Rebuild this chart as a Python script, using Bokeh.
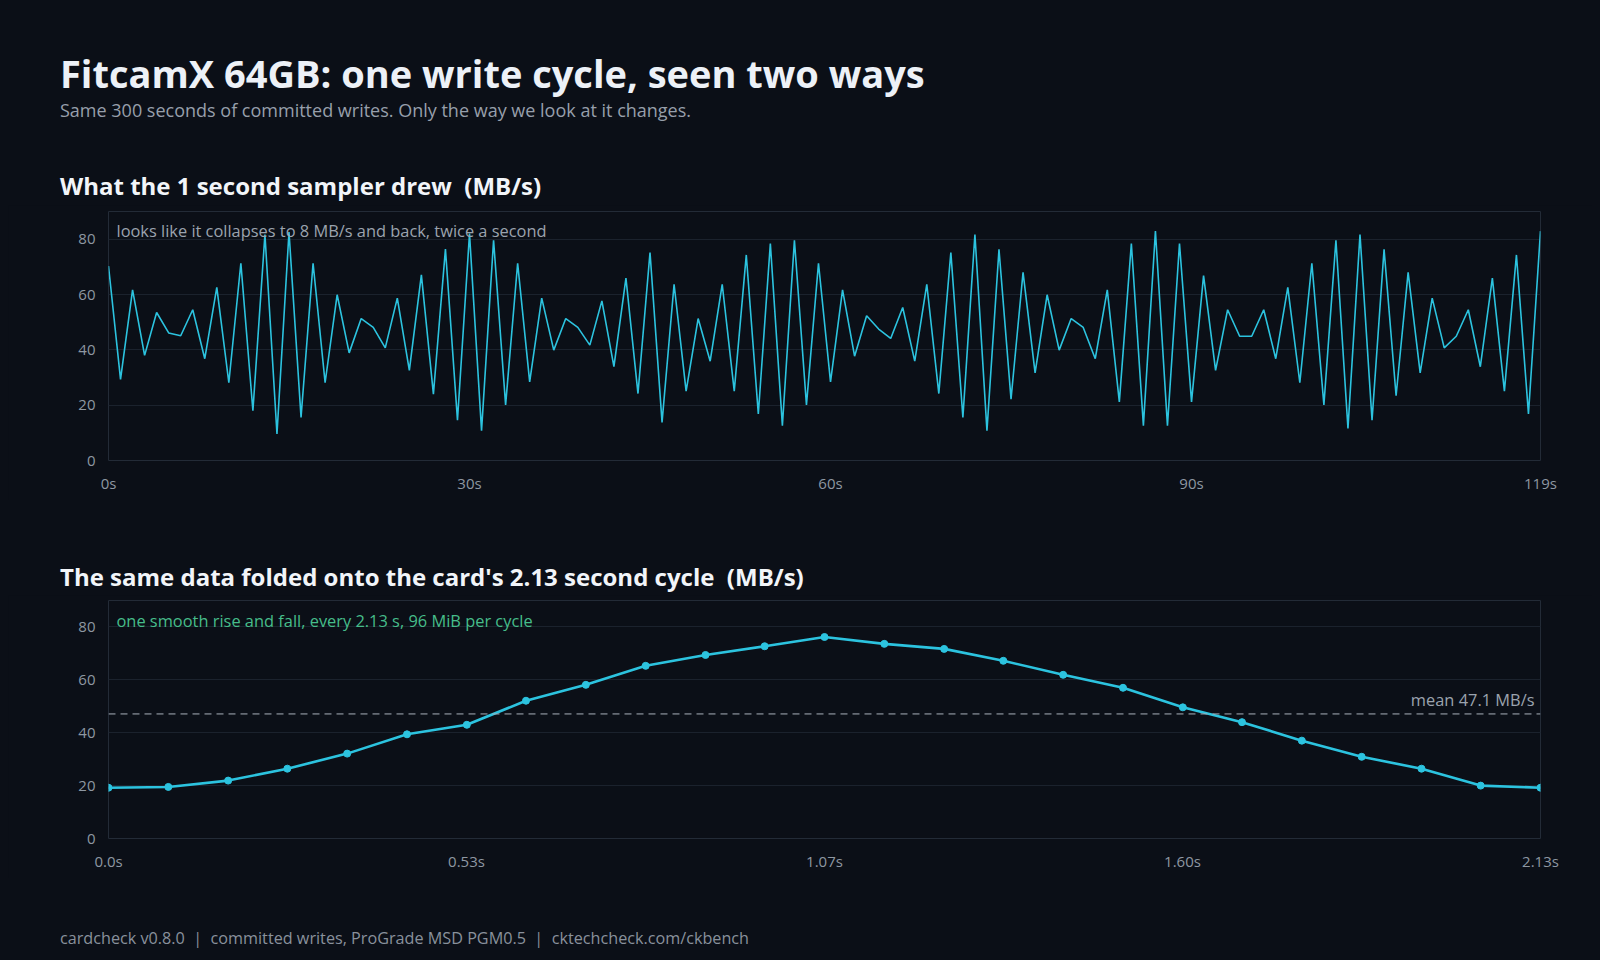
from bokeh.plotting import figure
from bokeh.layouts import column
from bokeh.models import Div, Label, Span, ColumnDataSource, FixedTicker
from bokeh.embed import file_html
from bokeh.resources import INLINE

# 1 second sampler readings, MB/s (0s .. 119s)
seconds = list(range(120))
sampled_mbps = [
    70.3, 29.3, 61.7, 38.0, 53.5, 46.1, 45.1, 54.5, 36.8, 62.6,
    28.1, 71.3, 18.0, 81.7, 9.6, 82.6, 15.6, 71.3, 28.1, 59.9,
    38.9, 51.3, 48.1, 40.7, 58.7, 32.6, 67.1, 24.0, 76.4, 14.6,
    82.0, 10.8, 79.6, 20.1, 71.3, 28.4, 58.7, 39.9, 51.3, 48.1,
    41.7, 57.7, 33.9, 65.9, 24.2, 75.2, 13.8, 63.7, 25.1, 51.3,
    35.9, 63.7, 25.1, 74.3, 16.8, 78.4, 12.6, 79.6, 20.1, 71.3,
    28.4, 61.7, 37.7, 52.3, 47.5, 44.1, 55.3, 35.9, 63.7, 24.2,
    75.2, 15.6, 81.7, 10.8, 76.3, 22.2, 68.0, 31.7, 59.9, 39.9,
    51.3, 48.1, 36.8, 61.7, 21.2, 78.4, 12.6, 82.9, 12.6, 78.4,
    21.2, 66.8, 32.6, 54.5, 44.9, 44.9, 54.5, 36.8, 62.6, 28.1,
    71.3, 20.1, 79.6, 11.6, 81.7, 14.6, 76.3, 23.4, 68.0, 31.7,
    58.7, 40.7, 44.9, 54.5, 33.9, 65.9, 25.1, 74.3, 16.8, 82.9,
]

# same data folded onto the 2.13 s cycle
phase_s = [0.000, 0.089, 0.178, 0.266, 0.355, 0.444, 0.533, 0.621, 0.710,
           0.799, 0.888, 0.976, 1.065, 1.154, 1.243, 1.331, 1.420, 1.509,
           1.598, 1.686, 1.775, 1.864, 1.953, 2.041, 2.130]
folded_mbps = [19.2, 19.5, 21.9, 26.4, 32.1, 39.4, 43.0, 52.1, 58.1,
               65.3, 69.4, 72.7, 76.2, 73.6, 71.7, 67.2, 61.9, 57.0,
               49.6, 44.0, 37.0, 30.9, 26.4, 20.0, 19.2]
mean_mbps = 47.1
cycle_s = 2.13

top_ticks = [0, 30, 60, 90, 119]
top_tick_labels = ["0s", "30s", "60s", "90s", "119s"]
bottom_ticks = [0.0, 0.5325, 1.065, 1.5975, 2.13]
bottom_tick_labels = ["0.0s", "0.53s", "1.07s", "1.60s", "2.13s"]
y_ticks = [0, 20, 40, 60, 80]

BG = "#0b0f17"
CYAN = "#2cc3df"
FONT = "Open Sans"
GRID = "#1b222d"
FRAME = "#232b37"
TICK_TXT = "#8e97a2"
W = 1584


def text_block(items, height):
    # items: (left, baseline, size, weight, color, text)
    parts = []
    for left, base, size, weight, color, txt in items:
        top = base - 0.888 * size
        parts.append(
            f'<div style="position:absolute;left:{left}px;top:{top:.1f}px;'
            f'font-size:{size}px;line-height:1;font-weight:{weight};color:{color};'
            f"white-space:nowrap;font-family:'{FONT}'\">{txt}</div>")
    html = (f'<div style="position:relative;width:{W}px;height:{height}px;">'
            + "".join(parts) + "</div>")
    return Div(text=html, width=W, height=height, margin=(0, 0, 0, 0))


def style_fig(p, ticks, labels):
    p.background_fill_color = BG
    p.border_fill_color = BG
    p.outline_line_color = FRAME
    p.xgrid.grid_line_color = None
    p.ygrid.grid_line_color = GRID
    p.yaxis.ticker = FixedTicker(ticks=y_ticks)
    p.xaxis.ticker = FixedTicker(ticks=ticks)
    p.xaxis.major_label_overrides = dict(zip(ticks, labels))
    for ax in (p.xaxis, p.yaxis):
        ax.axis_line_color = None
        ax.major_tick_line_color = None
        ax.minor_tick_line_color = None
        ax.major_tick_out = 0
        ax.major_tick_in = 0
        ax.major_label_text_font = FONT
        ax.major_label_text_font_size = "15px"
        ax.major_label_text_color = TICK_TXT
    p.yaxis.major_label_standoff = 13
    p.xaxis.major_label_standoff = 12


header = text_block([
    (52, 80, 38, 700, "#edf1f7", "FitcamX 64GB: one write cycle, seen two ways"),
    (52, 109, 18, 400, "#979fab", "Same 300 seconds of committed writes. Only the way we look at it changes."),
    (52, 187, 24, 700, "#f2f5f9", "What the 1 second sampler drew&nbsp;&nbsp;(MB/s)"),
], 197)

p1 = figure(frame_width=1432, frame_height=249, x_range=(0, 119), y_range=(0, 90),
            min_border_left=100, min_border_right=52, min_border_top=6,
            min_border_bottom=40, toolbar_location=None, output_backend="svg")
style_fig(p1, top_ticks, top_tick_labels)
src1 = ColumnDataSource(data=dict(t=seconds, v=sampled_mbps))
p1.line("t", "v", source=src1, line_color=CYAN, line_width=1.6)
p1.add_layout(Label(x=8, y=230, x_units="screen", y_units="screen",
                    text="looks like it collapses to 8 MB/s and back, twice a second",
                    text_font=FONT, text_font_size="16.4px", text_color="#9ba3ae",
                    text_baseline="alphabetic"))

middle = text_block([
    (52, 86, 24, 700, "#f2f5f9",
     "The same data folded onto the card's 2.13 second cycle&nbsp;&nbsp;(MB/s)"),
], 95)

p2 = figure(frame_width=1432, frame_height=238, x_range=(0, cycle_s), y_range=(0, 90),
            min_border_left=100, min_border_right=52, min_border_top=5,
            min_border_bottom=40, toolbar_location=None, output_backend="svg")
style_fig(p2, bottom_ticks, bottom_tick_labels)
src2 = ColumnDataSource(data=dict(ph=phase_s, v=folded_mbps))
p2.add_layout(Span(location=mean_mbps, dimension="width", line_color="#a9b1bb",
                   line_width=1, line_dash="7 5"))
p2.line("ph", "v", source=src2, line_color=CYAN, line_width=2.6)
p2.scatter("ph", "v", source=src2, size=7, fill_color=CYAN, line_color=CYAN)
p2.add_layout(Label(x=8, y=218, x_units="screen", y_units="screen",
                    text="one smooth rise and fall, every 2.13 s, 96 MiB per cycle",
                    text_font=FONT, text_font_size="16.4px", text_color="#46bd8a",
                    text_baseline="alphabetic"))
p2.add_layout(Label(x=1426, y=mean_mbps, x_units="screen", y_offset=14,
                    text=f"mean {mean_mbps} MB/s", text_align="right",
                    text_font=FONT, text_font_size="16.4px", text_color="#9ba3ae",
                    text_baseline="alphabetic"))

footer = text_block([
    (52, 66, 16.2, 400, "#89919c",
     "cardcheck v0.8.0&nbsp;&nbsp;|&nbsp;&nbsp;committed writes, ProGrade MSD PGM0.5"
     "&nbsp;&nbsp;|&nbsp;&nbsp;cktechcheck.com/ckbench"),
], 70)

p = column(header, p1, middle, p2, footer, spacing=0, margin=(8, 8, 0, 8))
html = file_html(p, INLINE, title="FitcamX write cycle")
html = html.replace("</head>", f"<style>html,body{{background:{BG};}}</style></head>", 1)
open("out.html", "w").write(html)
